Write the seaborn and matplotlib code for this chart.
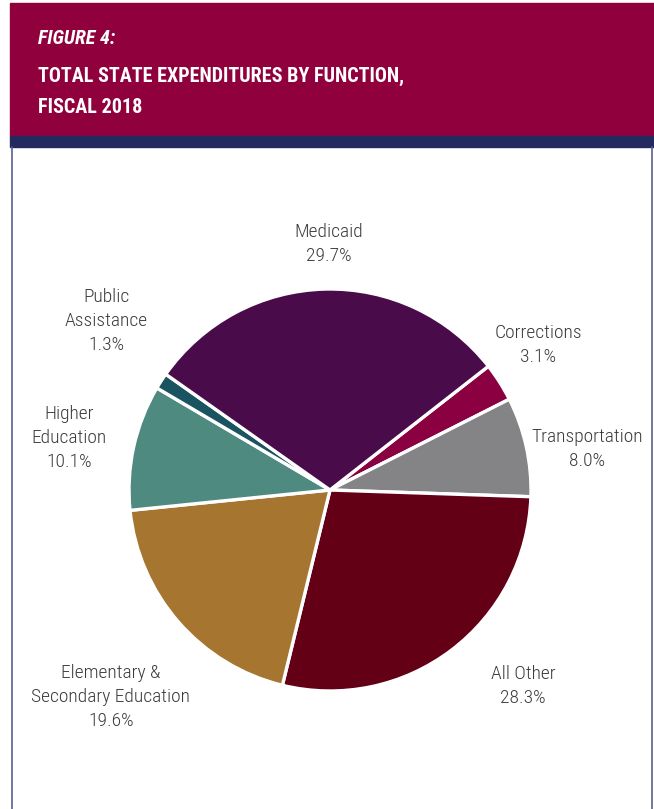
import matplotlib
matplotlib.use("Agg")
import matplotlib.pyplot as plt
from matplotlib.patches import Rectangle
from matplotlib.lines import Line2D
import seaborn as sns

# Spending shares by function (percent of total), clockwise from Corrections
categories = ["Corrections", "Transportation", "All Other",
              "Elementary &\nSecondary Education", "Higher\nEducation",
              "Public\nAssistance", "Medicaid"]
shares = [3.1, 8.0, 28.3, 19.6, 10.1, 1.3, 29.7]
slice_colors = ["#8b0041", "#848487", "#640016", "#a67631",
                "#4f8a80", "#1a5460", "#4a0b4b"]

# label anchor positions, in pie-radius units
label_pos = [(1.035, 0.721), (1.279, 0.204), (0.960, -0.975),
             (-1.090, -1.030), (-1.299, 0.259), (-1.114, 0.841),
             (-0.005, 1.224)]

sns.set_theme(style="white")
plt.rcParams["font.family"] = ["Roboto Condensed", "DejaVu Sans"]

W, H = 654, 809
fig = plt.figure(figsize=(W / 100, H / 100), dpi=100)
fig.patch.set_facecolor("white")


def fx(px):
    return px / W


def fy(py):
    return 1 - py / H


# header band
fig.patches.append(Rectangle((fx(10), fy(136)), fx(644), (136 - 3) / H,
                             transform=fig.transFigure, color="#8f003d",
                             zorder=0))
fig.patches.append(Rectangle((fx(10), fy(147)), fx(644), 11 / H,
                             transform=fig.transFigure, color="#232a5f",
                             zorder=0))
# panel side borders
for x in (11.5, 652):
    fig.lines.append(Line2D([fx(x), fx(x)], [fy(147), 0],
                            transform=fig.transFigure, color="#5b6090",
                            lw=1.2))

title_kw = dict(color="white", fontsize=14.5, fontweight="bold",
                va="baseline", ha="left")
fig.text(fx(38), fy(44), "FIGURE 4:", fontstyle="italic", **title_kw)
fig.text(fx(38), fy(82), "TOTAL STATE EXPENDITURES BY FUNCTION,", **title_kw)
fig.text(fx(38), fy(113), "FISCAL 2018", **title_kw)

# pie axes: centre at (330, 490) px, radius 201 px
R = 201
S = 318
ax = fig.add_axes([fx(330 - S), fy(490 + S), 2 * S / W, 2 * S / H])

wedges, _ = ax.pie(shares, colors=sns.color_palette(slice_colors),
                   startangle=38, counterclock=False, radius=1,
                   wedgeprops=dict(edgecolor="white", linewidth=2.4))
ax.set_xlim(-S / R, S / R)
ax.set_ylim(-S / R, S / R)
ax.set_aspect("equal")
ax.axis("off")

for name, val, (x, y) in zip(categories, shares, label_pos):
    ax.text(x, y, f"{name}\n{val:.1f}%", ha="center", va="center",
            fontsize=14, fontweight="light", color="#3c3c3c",
            linespacing=1.4)

fig.savefig("out.png", dpi=100, facecolor="white")
